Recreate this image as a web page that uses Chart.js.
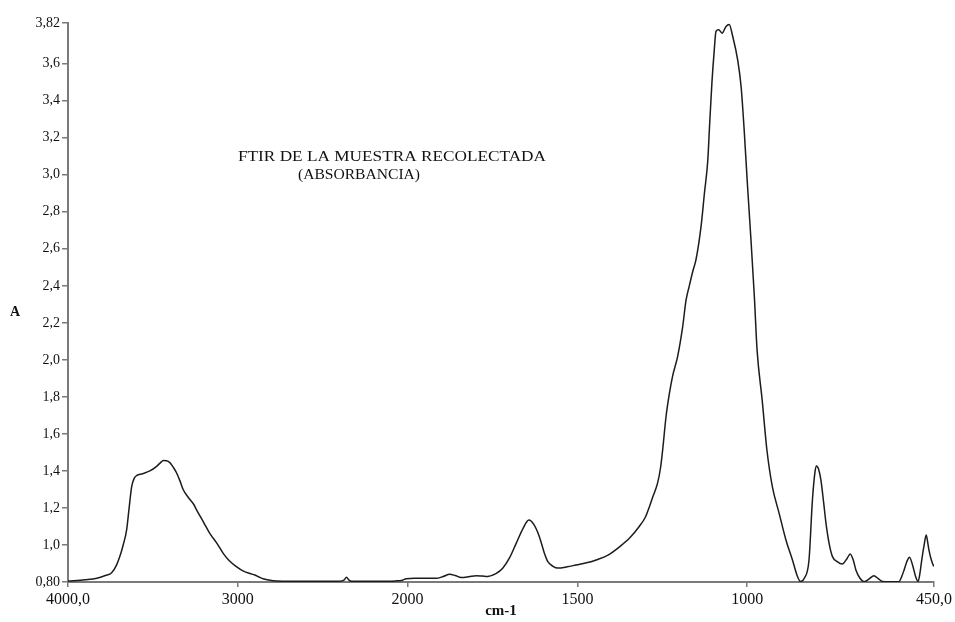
<!DOCTYPE html>
<html>
<head>
<meta charset="utf-8">
<title>FTIR de la muestra recolectada</title>
<script src="https://cdn.jsdelivr.net/npm/chart.js@4"></script>
<style>
  html, body { margin: 0; padding: 0; background: #fff; }
  #wrap { width: 955px; height: 622px; }
</style>
</head>
<body>
<div id="wrap"><canvas id="ftirChart" width="955" height="622"></canvas></div>
<script>
"use strict";

// wavenumber (cm-1)
const wavenumbers = [
  4000, 3900, 3830, 3780, 3743, 3715, 3694, 3675, 3655, 3640, 3625, 3610, 3596, 3560,
  3518, 3478, 3455, 3439, 3420, 3400, 3380, 3361, 3340, 3322, 3290, 3260, 3243, 3200,
  3165, 3120, 3086, 3050, 3008, 2970, 2929, 2900, 2870, 2851, 2810, 2772, 2700, 2600,
  2400, 2375, 2360, 2345, 2330, 2200, 2070, 2030, 2008, 1980, 1916, 1895, 1876, 1860,
  1842, 1820, 1798, 1780, 1764, 1740, 1720, 1700, 1680, 1660, 1643, 1628, 1612, 1598,
  1587, 1572, 1558, 1530, 1504, 1470, 1445, 1410, 1376, 1345, 1318, 1300, 1288, 1278,
  1264, 1255, 1249, 1239, 1229, 1220, 1205, 1190, 1180, 1171, 1160, 1151, 1136, 1126,
  1116, 1111, 1104, 1097, 1092, 1084, 1074, 1063, 1053, 1043, 1028, 1018, 1009, 999,
  989, 979, 971, 956, 942, 926, 906, 886, 867, 852, 843, 832, 818, 808,
  800, 796, 790, 783, 775, 768, 758, 749, 735, 720, 705, 697, 688, 680,
  668, 656, 642, 627, 614, 602, 580, 553, 545, 538, 530, 522, 513, 504,
  497, 492, 486, 479, 473, 469, 465, 458, 452, 450
];

// absorbance
const absorbance = [
  0.805, 0.812, 0.820, 0.835, 0.850, 0.890, 0.940, 1.000, 1.080, 1.200, 1.315, 1.360, 1.375, 1.385,
  1.400, 1.425, 1.445, 1.456, 1.455, 1.445, 1.420, 1.390, 1.345, 1.300, 1.255, 1.220, 1.190, 1.120,
  1.063, 1.005, 0.955, 0.915, 0.883, 0.860, 0.846, 0.838, 0.825, 0.818, 0.810, 0.806, 0.804, 0.804,
  0.804, 0.810, 0.825, 0.810, 0.804, 0.804, 0.806, 0.810, 0.818, 0.820, 0.820, 0.830, 0.842, 0.835,
  0.824, 0.828, 0.834, 0.832, 0.830, 0.845, 0.874, 0.930, 1.010, 1.090, 1.135, 1.110, 1.045, 0.960,
  0.910, 0.885, 0.875, 0.882, 0.892, 0.905, 0.919, 0.945, 0.990, 1.040, 1.100, 1.150, 1.207, 1.260,
  1.334, 1.420, 1.513, 1.694, 1.820, 1.910, 2.018, 2.180, 2.324, 2.396, 2.480, 2.540, 2.720, 2.900,
  3.080, 3.260, 3.495, 3.675, 3.775, 3.784, 3.765, 3.800, 3.812, 3.750, 3.620, 3.477, 3.243, 2.937,
  2.650, 2.342, 2.054, 1.784, 1.513, 1.315, 1.171, 1.027, 0.920, 0.830, 0.803, 0.820, 0.920, 1.243,
  1.400, 1.427, 1.410, 1.350, 1.230, 1.117, 1.000, 0.937, 0.910, 0.897, 0.930, 0.951, 0.920, 0.865,
  0.820, 0.802, 0.815, 0.834, 0.818, 0.803, 0.802, 0.802, 0.830, 0.865, 0.910, 0.934, 0.890, 0.829,
  0.802, 0.840, 0.920, 1.000, 1.054, 1.020, 0.973, 0.920, 0.890, 0.885
];

const xTickValues = [4000, 3000, 2000, 1500, 1000, 450];
const xTickLabels = ["4000,0", "3000", "2000", "1500", "1000", "450,0"];
const yTickValues = [0.8, 1.0, 1.2, 1.4, 1.6, 1.8, 2.0, 2.2, 2.4, 2.6, 2.8, 3.0, 3.2, 3.4, 3.6, 3.82];
const yTickLabels = ["0,80", "1,0", "1,2", "1,4", "1,6", "1,8", "2,0", "2,2", "2,4", "2,6", "2,8", "3,0", "3,2", "3,4", "3,6", "3,82"];

// the instrument halves the scale above 2000 cm-1
const toPos = function (w) {
  return w >= 2000 ? (4000 - w) / 2 : 1000 + (2000 - w);
};

const serif = "'Liberation Serif', 'Times New Roman', serif";
const axisGray = "#7a7a7a";

// header text and the "A" label, stretched a bit like the original export
const labelsPlugin = {
  id: "labels",
  afterDraw(chart) {
    const ctx = chart.ctx;
    const stretched = function (text, x, y, width, font) {
      ctx.save();
      ctx.font = font;
      const w = ctx.measureText(text).width;
      ctx.translate(x, y);
      ctx.scale(width / w, 1);
      ctx.fillText(text, 0, 0);
      ctx.restore();
    };
    ctx.save();
    ctx.fillStyle = "#111";
    ctx.textBaseline = "middle";
    ctx.textAlign = "left";
    stretched("FTIR DE LA MUESTRA RECOLECTADA", 238, 157, 308, "14px " + serif);
    stretched("(ABSORBANCIA)", 298, 175, 122, "14px " + serif);
    ctx.font = "bold 14px " + serif;
    ctx.fillText("A", 10, 312);
    ctx.restore();
  },
};

const ctx = document.getElementById("ftirChart").getContext("2d");

new Chart(ctx, {
  type: "line",
  data: {
    datasets: [
      {
        label: "Absorbancia",
        data: wavenumbers.map(function (w, i) {
          return { x: toPos(w), y: absorbance[i] };
        }),
        borderColor: "#1c1c1c",
        borderWidth: 1.5,
        pointRadius: 0,
        fill: false,
        cubicInterpolationMode: "monotone",
      },
    ],
  },
  options: {
    responsive: false,
    animation: false,
    devicePixelRatio: 1,
    layout: { padding: { top: 23, right: 21, left: 0, bottom: 0 } },
    plugins: {
      legend: { display: false },
      tooltip: { enabled: false },
    },
    scales: {
      x: {
        type: "linear",
        min: 0,
        max: toPos(450),
        afterBuildTicks(scale) {
          scale.ticks = xTickValues.map(function (w) {
            return { value: toPos(w) };
          });
        },
        afterFit(scale) {
          scale.height = 40;
        },
        ticks: {
          autoSkip: false,
          maxRotation: 0,
          padding: 3,
          color: "#111",
          font: { family: serif, size: 16 },
          callback: function (value, index) {
            return xTickLabels[index];
          },
        },
        grid: {
          drawOnChartArea: false,
          drawTicks: true,
          tickLength: 5,
          color: axisGray,
          lineWidth: 1.5,
        },
        border: { display: true, color: axisGray, width: 2 },
        title: {
          display: true,
          text: "cm-1",
          color: "#111",
          font: { family: serif, size: 15, weight: "bold" },
          padding: { top: 0, bottom: 2 },
        },
      },
      y: {
        min: 0.8,
        max: 3.82,
        afterBuildTicks(scale) {
          scale.ticks = yTickValues.map(function (v) {
            return { value: v };
          });
        },
        afterFit(scale) {
          scale.width = 68;
        },
        ticks: {
          autoSkip: false,
          padding: 2,
          color: "#111",
          font: { family: serif, size: 14 },
          callback: function (value, index) {
            return yTickLabels[index];
          },
        },
        grid: {
          drawOnChartArea: false,
          drawTicks: true,
          tickLength: 6,
          color: axisGray,
          lineWidth: 1.5,
        },
        border: { display: true, color: axisGray, width: 2 },
      },
    },
  },
  plugins: [labelsPlugin],
});
</script>
</body>
</html>
